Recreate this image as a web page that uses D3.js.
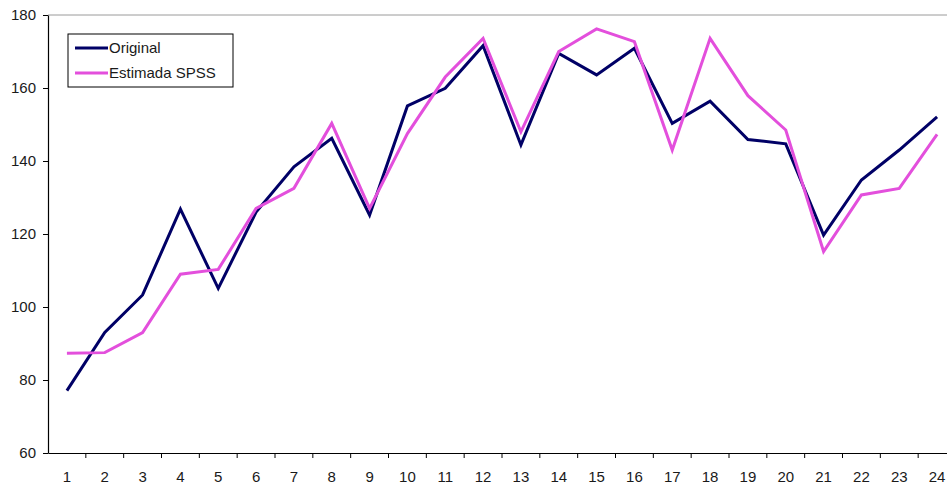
<!DOCTYPE html>
<html>
<head>
<meta charset="utf-8">
<script src="https://cdn.jsdelivr.net/npm/d3@7/dist/d3.min.js"></script>
<style>
  html, body { margin: 0; padding: 0; background: #fff; }
  svg { display: block; }
  text { font-family: "Liberation Sans", Arial, sans-serif; fill: #1a1a1a; }
</style>
</head>
<body>
<svg id="chart" width="947" height="488"></svg>
<script>
// Periods 1..24
const periods = d3.range(1, 25);
// Observed series
const original = [77.1, 93.0, 103.3, 126.8, 105.1, 126.0, 138.4, 146.2, 125.2, 155.1, 159.9, 171.6,
                  144.4, 169.5, 163.6, 170.9, 150.3, 156.4, 145.9, 144.7, 119.7, 134.8, 143.0, 152.1];
// Values estimated with SPSS
const estimated = [87.3, 87.5, 93.0, 109.0, 110.3, 127.0, 132.5, 150.3, 127.0, 147.5, 163.0, 173.6,
                   148.0, 170.0, 176.2, 172.7, 143.0, 173.6, 157.9, 148.5, 115.2, 130.7, 132.5, 147.3];
const yTicks = [60, 80, 100, 120, 140, 160, 180];
const seriesNames = ["Original", "Estimada SPSS"];
const seriesColors = ["#000066", "#e34fdc"];

const svg = d3.select("#chart");
const plotLeft = 48, plotRight = 956, plotTop = 15, plotBottom = 453;

const x = d3.scaleBand().domain(periods).range([plotLeft, plotRight]).padding(0);
const y = d3.scaleLinear().domain([60, 180]).range([plotBottom, plotTop]);

// top gridline at the maximum value
svg.append("line")
  .attr("x1", plotLeft).attr("x2", 947)
  .attr("y1", y(180)).attr("y2", y(180))
  .attr("stroke", "#9a9a9a").attr("stroke-width", 1);

// y axis
const yAxis = svg.append("g")
  .attr("transform", `translate(${plotLeft},0)`)
  .call(d3.axisLeft(y).tickValues(yTicks).tickSize(5).tickPadding(7).tickSizeOuter(0));
yAxis.select(".domain").attr("stroke", "#000").attr("stroke-width", 1.2);
yAxis.selectAll(".tick line").attr("stroke", "#000");
yAxis.selectAll("text").style("font-size", "15px").style("fill", "#1a1a1a");

// x axis with tick marks between categories
const xAxis = svg.append("g")
  .attr("transform", `translate(0,${plotBottom})`)
  .call(d3.axisBottom(x).tickSize(0).tickPadding(18).tickSizeOuter(0));
xAxis.select(".domain").attr("stroke", "#000").attr("stroke-width", 1.2);
xAxis.selectAll("text").style("font-size", "15px").style("fill", "#1a1a1a");
xAxis.selectAll(".sep")
  .data(periods)
  .enter().append("line")
  .attr("class", "sep")
  .attr("x1", d => x(d) + x.bandwidth()).attr("x2", d => x(d) + x.bandwidth())
  .attr("y1", 0).attr("y2", 5)
  .attr("stroke", "#000");

const cx = d => x(d) + x.bandwidth() / 2;
const line = d3.line().x((v, i) => cx(periods[i])).y(v => y(v));

[original, estimated].forEach((vals, k) => {
  svg.append("path")
    .datum(vals)
    .attr("d", line)
    .attr("fill", "none")
    .attr("stroke", seriesColors[k])
    .attr("stroke-width", 3)
    .attr("stroke-linejoin", "miter");
});

// legend
const lg = svg.append("g").attr("transform", "translate(68,34)");
lg.append("rect").attr("width", 165).attr("height", 53)
  .attr("fill", "#fff").attr("stroke", "#000").attr("stroke-width", 1);
seriesNames.forEach((name, k) => {
  const yy = 14 + k * 25;
  lg.append("line").attr("x1", 7).attr("x2", 40).attr("y1", yy).attr("y2", yy)
    .attr("stroke", seriesColors[k]).attr("stroke-width", 3);
  lg.append("text").attr("x", 41).attr("y", yy).attr("dy", "0.35em")
    .style("font-size", "15px").text(name);
});
</script>
</body>
</html>
